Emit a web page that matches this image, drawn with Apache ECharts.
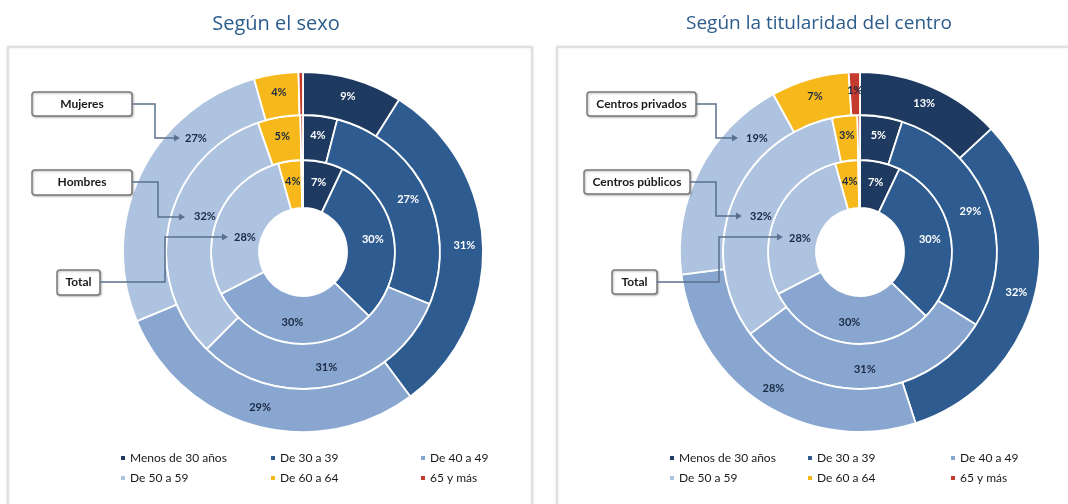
<!DOCTYPE html>
<html>
<head>
<meta charset="utf-8">
<script src="https://cdn.jsdelivr.net/npm/echarts@6/dist/echarts.min.js"></script>
<style>
html,body{margin:0;padding:0;background:#fff;}
#chart{width:1068px;height:504px;}
</style>
</head>
<body>
<div id="chart"></div>
<script>
const categories = ['Menos de 30 años','De 30 a 39','De 40 a 49','De 50 a 59','De 60 a 64','65 y más'];
const sexoTotal = [7, 30, 30, 28, 4, 0.3];
const sexoHombres = [4, 27, 31, 32, 5, 0.3];
const sexoMujeres = [9, 31, 29, 27, 4, 0.4];
const titTotal = [7, 30, 30, 28, 4, 0.3];
const titPublicos = [5, 29, 31, 32, 3, 0.3];
const titPrivados = [13, 32, 28, 19, 7, 1];
const titles = ['Según el sexo', 'Según la titularidad del centro'];
const ringNames = [['Total','Hombres','Mujeres'], ['Total','Centros públicos','Centros privados']];

const colors = ['#1f3a60','#2e5c91','#88a6cf','#adc3e0','#f6b81a','#c43b2e'];
const labelColors = ['#ffffff','#ffffff','#1a2a44','#1a2a44','#1a2a44','#1a2a44'];
const FONT = 'Lato, "Liberation Sans", sans-serif';

const chart = echarts.init(document.getElementById('chart'), null, {renderer:'canvas'});

// label placements used by the callouts (the "De 50 a 59" labels were moved by hand in the original)
const calloutLabelPos = [[245, 237], [205, 216], [196, 138], [800, 238], [761, 216], [757, 138]];

function ring(idx, name, values, center, radius) {
  return {
    type: 'pie', name: name, center: center, radius: radius,
    startAngle: 90, clockwise: true, animation: false,
    avoidLabelOverlap: false,
    itemStyle: {borderColor: '#ffffff', borderWidth: 1.8},
    label: {
      show: true, position: 'inside', fontFamily: FONT, fontSize: 11, fontWeight: 'bold',
      formatter: p => p.value >= 1 ? Math.round(p.value) + '%' : ''
    },
    labelLine: {show: false},
    labelLayout: function (p) {
      if (p.dataIndex === 3) {
        const pos = calloutLabelPos[idx];
        return {x: pos[0], y: pos[1]};
      }
      return {};
    },
    emphasis: {disabled: true},
    data: categories.map((c, i) => ({
      name: c, value: values[i],
      itemStyle: {color: colors[i]},
      label: {color: labelColors[i]}
    }))
  };
}

const L = [303, 252], R = [860, 252];

const series = [
  ring(0, ringNames[0][0], sexoTotal, L, [44, 92]),
  ring(1, ringNames[0][1], sexoHombres, L, [92, 137]),
  ring(2, ringNames[0][2], sexoMujeres, L, [137, 180]),
  ring(3, ringNames[1][0], titTotal, R, [44, 92]),
  ring(4, ringNames[1][1], titPublicos, R, [92, 137]),
  ring(5, ringNames[1][2], titPrivados, R, [137, 180])
];

const legendCols = [[119, 269, 419], [668, 806, 949]];
const legendRows = [452, 472];
const legends = [];
legendCols.forEach(cols => {
  categories.forEach((c, i) => {
    legends.push({
      data: [c], left: cols[i % 3], top: legendRows[Math.floor(i / 3)],
      padding: 0, icon: 'rect', itemWidth: 6, itemHeight: 6, itemGap: 5,
      selectedMode: false,
      textStyle: {fontFamily: FONT, fontSize: 12, color: '#1a1a1a', padding: [0,0,0,-1]}
    });
  });
});

function box(x, y, w, h, text) {
  return [
    {type: 'rect', z: 100, shape: {x: x, y: y, width: w, height: h, r: 3},
     style: {fill: '#fff', stroke: '#7a7a7a', lineWidth: 1.5, shadowBlur: 2, shadowColor: 'rgba(0,0,0,0.25)', shadowOffsetX: 1, shadowOffsetY: 1}},
    {type: 'text', z: 101, x: x + w / 2, y: y + h / 2,
     style: {text: text, fill: '#1a1a1a', font: 'bold 12px ' + FONT, align: 'center', verticalAlign: 'middle'}}
  ];
}
function connector(pts) {
  const last = pts[pts.length - 1];
  return [
    {type: 'polyline', z: 100, shape: {points: pts}, style: {stroke: '#5a708e', lineWidth: 1.5, fill: null}},
    {type: 'polygon', z: 100, shape: {points: [[last[0] + 5, last[1]], [last[0] - 1, last[1] - 3.5], [last[0] - 1, last[1] + 3.5]]},
     style: {fill: '#5a708e'}}
  ];
}

const graphics = [
  {type: 'rect', z: -10, shape: {x: 8, y: 47, width: 524, height: 480},
   style: {fill: '#fff', stroke: '#dcdcdc', lineWidth: 1.5, shadowBlur: 3, shadowColor: 'rgba(0,0,0,0.12)'}},
  {type: 'rect', z: -10, shape: {x: 557, y: 47, width: 530, height: 480},
   style: {fill: '#fff', stroke: '#dcdcdc', lineWidth: 1.5, shadowBlur: 3, shadowColor: 'rgba(0,0,0,0.12)'}},
  ...box(32, 92, 100, 24, ringNames[0][2]),
  ...box(32, 170, 100, 25, ringNames[0][1]),
  ...box(57, 270, 43, 25, ringNames[0][0]),
  ...connector([[132, 104], [155, 104], [155, 138], [175, 138]]),
  ...connector([[132, 182], [158, 182], [158, 217], [180, 217]]),
  ...connector([[100, 282], [165, 282], [165, 237], [223, 237]]),
  ...box(587, 92, 109, 24, ringNames[1][2]),
  ...box(584, 170, 106, 24, ringNames[1][1]),
  ...box(612, 270, 45, 24, ringNames[1][0]),
  ...connector([[696, 104], [716, 104], [716, 138], [733, 138]]),
  ...connector([[690, 182], [716, 182], [716, 216], [737, 216]]),
  ...connector([[657, 282], [719, 282], [719, 237], [778, 237]])
];

chart.setOption({
  backgroundColor: '#ffffff',
  animation: false,
  title: [
    {text: titles[0], left: 271, top: 9, textAlign: 'center',
     textStyle: {fontFamily: '"Open Sans", sans-serif', fontSize: 20, fontWeight: 'normal', color: '#2b5c8c'}},
    {text: titles[1], left: 814, top: 9, textAlign: 'center',
     textStyle: {fontFamily: '"Open Sans", sans-serif', fontSize: 19, fontWeight: 'normal', color: '#2b5c8c'}}
  ],
  legend: legends,
  graphic: graphics,
  series: series
});
</script>
</body>
</html>
